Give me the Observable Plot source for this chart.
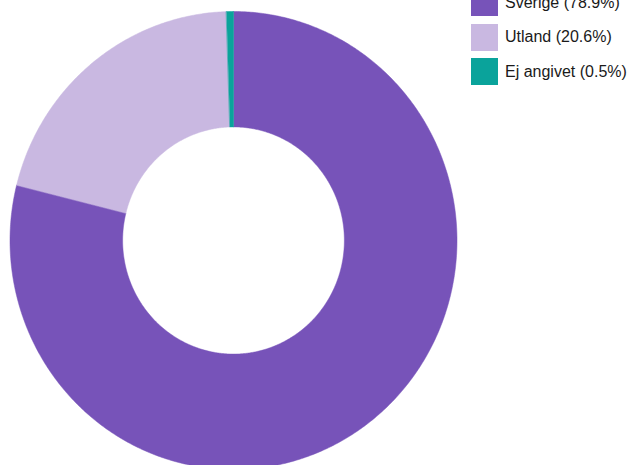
<!DOCTYPE html>
<html>
<head>
<meta charset="utf-8">
<script src="https://cdn.jsdelivr.net/npm/d3@7"></script>
<script src="https://cdn.jsdelivr.net/npm/@observablehq/plot@0.6"></script>
<style>
  html, body { margin: 0; padding: 0; background: #fff; overflow: hidden; }
  #wrap { position: relative; width: 636px; height: 465px; }
  #legend { position: absolute; left: 471px; top: -11px; font-family: "Liberation Sans", Arial, Helvetica, sans-serif; font-size: 16px; color: #1a1a1a; }
  .row { display: flex; align-items: center; height: 27px; margin-bottom: 7.7px; }
  .sw { width: 27px; height: 27px; margin-right: 7px; flex: none; }
</style>
</head>
<body>
<div id="wrap"></div>
<script>
const categories = ["Sverige", "Utland", "Ej angivet"];
const shares = [78.9, 20.6, 0.5];
const labels = ["Sverige (78.9%)", "Utland (20.6%)", "Ej angivet (0.5%)"];
const colors = ["#7753b9", "#c9b8e1", "#0aa39b"];

const outerR = 1, innerR = 0.496;
const total = d3.sum(shares);

// Build ring-segment outlines from the shares (angles measured clockwise from 12 o'clock)
const pts = [];
let start = 0;
categories.forEach((c, i) => {
  const a0 = start / total * 2 * Math.PI;
  const a1 = (start + shares[i]) / total * 2 * Math.PI;
  start += shares[i];
  const n = Math.max(2, Math.ceil((a1 - a0) / (Math.PI / 360)));
  for (let k = 0; k <= n; k++) {
    const a = a0 + (a1 - a0) * k / n;
    pts.push({cat: c, x: outerR * Math.sin(a), y: -outerR * Math.cos(a)});
  }
  for (let k = n; k >= 0; k--) {
    const a = a0 + (a1 - a0) * k / n;
    pts.push({cat: c, x: innerR * Math.sin(a), y: -innerR * Math.cos(a)});
  }
});

const chart = Plot.plot({
  width: 636,
  height: 465,
  margin: 0,
  style: {background: "transparent"},
  x: {domain: [-233 / 223.5, 403 / 223.5], range: [0, 636], axis: null},
  y: {domain: [-240 / 229, 225 / 229], range: [0, 465], axis: null},
  color: {domain: categories, range: colors},
  marks: [
    Plot.line(pts, {x: "x", y: "y", z: "cat", fill: "cat", stroke: "cat", strokeWidth: 0.5, curve: "linear-closed"})
  ]
});
document.getElementById("wrap").appendChild(chart);

const legend = document.createElement("div");
legend.id = "legend";
labels.forEach((t, i) => {
  const row = document.createElement("div");
  row.className = "row";
  const sw = document.createElement("div");
  sw.className = "sw";
  sw.style.background = colors[i];
  const tx = document.createElement("span");
  tx.textContent = t;
  row.appendChild(sw);
  row.appendChild(tx);
  legend.appendChild(row);
});
document.getElementById("wrap").appendChild(legend);
</script>
</body>
</html>
